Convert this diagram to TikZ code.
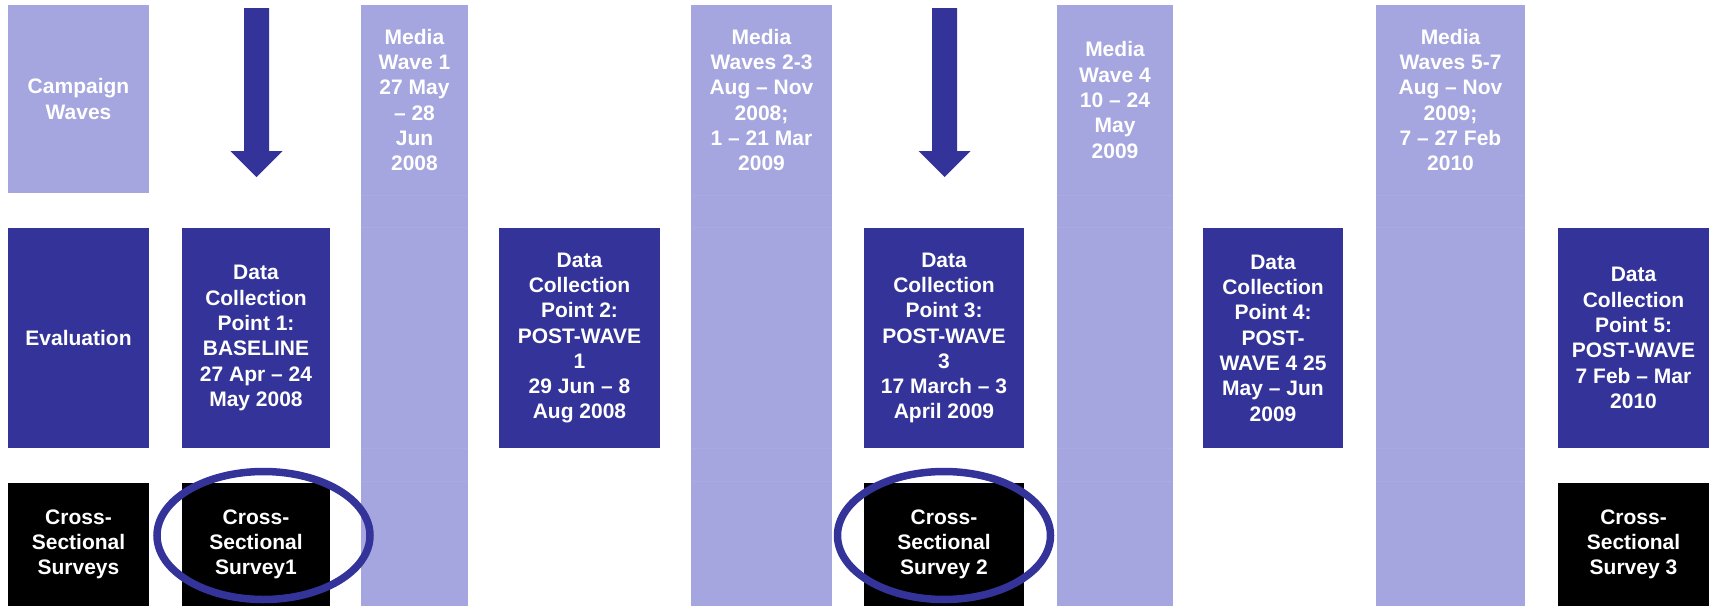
\documentclass[tikz,border=0pt]{standalone}
\usepackage{fontspec}
\setmainfont{Liberation Sans}
\usetikzlibrary{positioning}
\definecolor{wavelilac}{HTML}{A5A5DF}
\definecolor{evalblue}{HTML}{333399}

\begin{document}
\begin{tikzpicture}
    [
    x=1pt,y=-1pt,
    cell/.style={rectangle,inner sep=0pt,text=white,align=center,font=\bfseries\fontsize{21}{25.3}\selectfont},
    wave/.style={cell,fill=wavelilac},
    column/.style={rectangle,inner sep=0pt,fill=wavelilac,minimum height=601pt},
    eval/.style={cell,fill=evalblue,minimum height=220pt},
    survey/.style={cell,fill=black,minimum height=123pt},
    gridline/.style={draw=wavelilac!94!white,line width=0.6pt},
    ring/.style={draw=evalblue,line width=7.5pt},
    drop/.style={fill=evalblue}
    ]
    \useasboundingbox (0,0) rectangle (1709,606);
    \node (campaign) at (78.5,99) [wave,minimum width=141pt,minimum height=188pt] {Campaign\\Waves};
    \node (evaluation) at (78.5,338) [eval,minimum width=141pt] {Evaluation};
    \node (surveys) at (78.5,544.5) [survey,minimum width=141pt] {Cross-\\Sectional\\Surveys};
    \node (m1) at (414.5,305.5) [column,minimum width=107pt] {};
    \node (m23) at (761.5,305.5) [column,minimum width=141pt] {};
    \node (m4) at (1115,305.5) [column,minimum width=116pt] {};
    \node (m57) at (1450.5,305.5) [column,minimum width=149pt] {};
    \foreach \col in {m1,m23,m4,m57}
      \foreach \y in {195,227,448,481}
        \draw [gridline] (\col.west |- 0,\y) -- (\col.east |- 0,\y);
    \node (m1text) at (414.5,100) [cell] {Media\\Wave 1\\27 May\\– 28\\Jun\\2008};
    \node (m23text) at (761.5,100) [cell] {Media\\Waves 2-3\\Aug – Nov\\2008;\\1 – 21 Mar\\2009};
    \node (m4text) at (1115,100) [cell] {Media\\Wave 4\\10 – 24\\May\\2009};
    \node (m57text) at (1450.5,100) [cell] {Media\\Waves 5-7\\Aug – Nov\\2009;\\7 – 27 Feb\\2010};
    \node (dcp1) at (256,338) [eval,minimum width=148pt] {Data\\Collection\\Point 1:\\BASELINE\\27 Apr – 24\\May 2008};
    \node (dcp2) at (579.5,338) [eval,minimum width=161pt] {Data\\Collection\\Point 2:\\POST-WAVE\\1\\29 Jun – 8\\Aug 2008};
    \node (dcp3) at (944,338) [eval,minimum width=160pt] {Data\\Collection\\Point 3:\\POST-WAVE\\3\\17 March – 3\\April 2009};
    \node (dcp4) at (1273,338) [eval,minimum width=140pt] {Data\\Collection\\Point 4:\\POST-\\WAVE 4 25\\May – Jun\\2009};
    \node (dcp5) at (1633.5,338) [eval,minimum width=151pt] {Data\\Collection\\Point 5:\\POST-WAVE\\7 Feb – Mar\\2010};
    \node (css1) at (256,544.5) [survey,minimum width=148pt] {Cross-\\Sectional\\Survey1};
    \node (css2) at (944,544.5) [survey,minimum width=160pt] {Cross-\\Sectional\\Survey 2};
    \node (css3) at (1633.5,544.5) [survey,minimum width=151pt] {Cross-\\Sectional\\Survey 3};
    \foreach \x in {256.5,944.5}
      \fill [drop] ({\x-12.5},8) -- ({\x+12.5},8) -- ({\x+12.5},151) -- ({\x+26},151)
        -- (\x,177) -- ({\x-26},151) -- ({\x-12.5},151) -- cycle;
    \draw [ring] (263.5,535.5) ellipse [x radius=106.5,y radius=64];
    \draw [ring] (944,535.5) ellipse [x radius=106.5,y radius=64];
\end{tikzpicture}
\end{document}
